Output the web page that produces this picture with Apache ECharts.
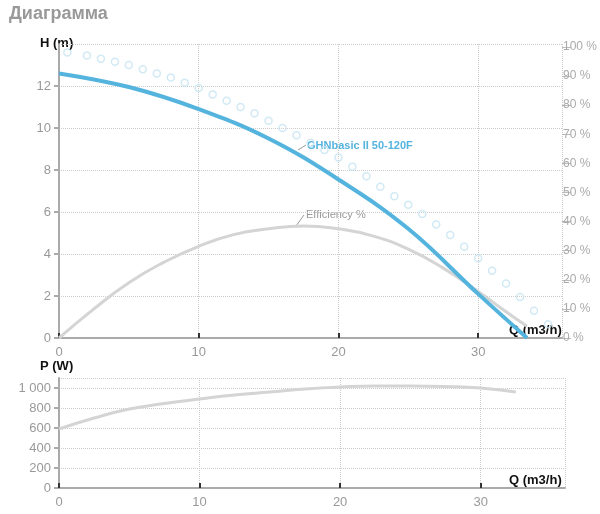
<!DOCTYPE html>
<html><head><meta charset="utf-8">
<script src="https://cdn.jsdelivr.net/npm/echarts@6/dist/echarts.min.js"></script>
<style>body{margin:0;background:#fff}#c{width:600px;height:514px}</style></head>
<body><div id="c"></div>
<script>
const xTicks = [0, 10, 20, 30];
const headQ = [0, 5, 10, 15, 20, 25, 30, 33.5];
const headH = [12.6, 11.95, 10.9, 9.5, 7.55, 5.2, 2.1, 0];
const effQ = [0, 2.5, 5, 7.5, 10, 12.5, 15, 17.5, 20, 22.5, 25, 27.5, 30, 32, 33.5];
const effPct = [0, 10, 19, 26, 31.5, 35.5, 37.5, 38.5, 37.5, 35, 30.5, 24, 16, 9, 4];
const dotQ = [0.6,2,3,4,5,6,7,8,9,10,11,12,13,14,15,16,17,18,19,20,21,22,23,24,25,26,27,28,29,30,31,32,33,34,35,36.2];
const dotH = [13.6,13.45,13.3,13.15,13.0,12.8,12.6,12.4,12.15,11.9,11.6,11.3,11.0,10.7,10.35,10.0,9.65,9.3,8.95,8.6,8.15,7.7,7.2,6.75,6.35,5.9,5.4,4.9,4.35,3.8,3.2,2.6,1.95,1.3,0.65,0];
const powQ = [0, 2.5, 5, 7.5, 10, 12.5, 15, 17.5, 20, 22.5, 25, 27.5, 30, 32.5];
const powW = [590, 700, 790, 845, 890, 930, 960, 990, 1010, 1020, 1020, 1015, 1000, 960];

const zip = (a, b) => a.map((v, i) => [v, b[i]]);
const gray = '#999';
const grid = { type: 'dotted', color: '#ccc' };
const xAx = (gi) => ({
  type: 'value', gridIndex: gi, min: 0, max: 36, interval: 10,
  axisLine: { lineStyle: { color: '#aaa', width: 2 } },
  axisTick: { show: true, lineStyle: { color: '#333', width: 2 }, length: 5, inside: true },
  axisLabel: { color: gray, fontSize: 13, showMaxLabel: false, fontFamily: 'Arial' },
  splitLine: { show: true, lineStyle: grid }
});
const chart = echarts.init(document.getElementById('c'));
chart.setOption({
  animation: false,
  textStyle: { fontFamily: 'Arial' },
  title: { text: 'Диаграмма', left: 4, top: 0, textStyle: { color: '#999', fontSize: 18, fontWeight: 'bold' } },
  grid: [
    { left: 59, right: 35, top: 44, bottom: 176 },
    { left: 59, right: 35, top: 378, bottom: 26 }
  ],
  xAxis: [xAx(0), xAx(1)],
  yAxis: [
    { type: 'value', gridIndex: 0, min: 0, max: 14, interval: 2,
      axisLine: { show: true, lineStyle: { color: '#aaa', width: 2 } },
      axisTick: { show: true, length: 5, lineStyle: { color: '#aaa', width: 2 } },
      axisLabel: { color: gray, fontSize: 13, showMaxLabel: false, margin: 8 },
      splitLine: { show: true, lineStyle: grid } },
    { type: 'value', gridIndex: 0, min: 0, max: 101, interval: 10, position: 'right',
      axisLine: { show: false },
      axisTick: { show: true, length: 9, lineStyle: { color: '#bbb' } },
      axisLabel: { color: '#aaa', fontSize: 12, margin: 1, formatter: v => v + ' %' },
      splitLine: { show: false } },
    { type: 'value', gridIndex: 1, min: 0, max: 1100, interval: 200,
      axisLine: { show: true, lineStyle: { color: '#aaa', width: 2 } },
      axisTick: { show: true, length: 5, lineStyle: { color: '#aaa', width: 2 } },
      axisLabel: { color: gray, fontSize: 13, showMaxLabel: false, formatter: v => v >= 1000 ? '1 000' : v },
      splitLine: { show: true, lineStyle: grid } }
  ],
  series: [
    { type: 'scatter', xAxisIndex: 0, yAxisIndex: 0, data: zip(dotQ, dotH),
      symbol: 'circle', symbolSize: 7,
      itemStyle: { color: 'rgba(255,255,255,0)', borderColor: '#c5e3f1', borderWidth: 1.5 } },
    { type: 'line', xAxisIndex: 0, yAxisIndex: 1, data: zip(effQ, effPct), smooth: true,
      showSymbol: false, lineStyle: { color: '#d4d4d4', width: 3 } },
    { type: 'line', xAxisIndex: 0, yAxisIndex: 0, data: zip(headQ, headH), smooth: 0.4,
      showSymbol: false, lineStyle: { color: '#55b4de', width: 4 } },
    { type: 'line', xAxisIndex: 1, yAxisIndex: 2, data: zip(powQ, powW), smooth: true,
      showSymbol: false, lineStyle: { color: '#d4d4d4', width: 3 } }
  ],
  graphic: [
    { type: 'text', left: 40, top: 37, style: { text: 'H (m)', font: 'bold 13px Arial', fill: '#111' } },
    { type: 'text', left: 40, top: 360, style: { text: 'P (W)', font: 'bold 13px Arial', fill: '#111' } },
    { type: 'text', left: 509, top: 324, style: { text: 'Q (m3/h)', font: 'bold 13px Arial', fill: '#111' } },
    { type: 'text', left: 509, top: 474, style: { text: 'Q (m3/h)', font: 'bold 13px Arial', fill: '#111' } },
    { type: 'text', left: 307, top: 140, style: { text: 'GHNbasic II 50-120F', font: 'bold 11px Arial', fill: '#55b4de' } },
    { type: 'line', shape: { x1: 298, y1: 150, x2: 306, y2: 145 }, style: { stroke: '#999' } },
    { type: 'text', left: 306, top: 209, style: { text: 'Efficiency %', font: '11px Arial', fill: '#999' } },
    { type: 'line', shape: { x1: 296, y1: 226, x2: 304, y2: 215 }, style: { stroke: '#999' } }
  ]
});
</script></body></html>
